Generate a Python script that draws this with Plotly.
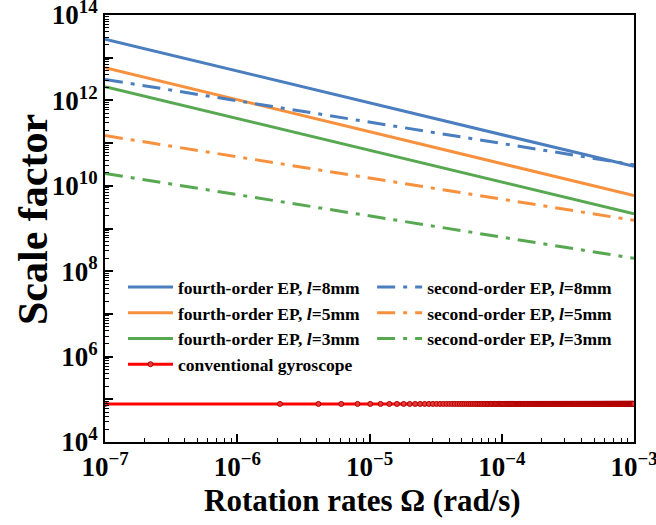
import numpy as np
import plotly.graph_objects as go

# Rotation-rate range (rad/s)
omega_ends = [1e-7, 1e-3]

# Scale factor at the two ends of each power-law curve (straight on log-log)
fourth_l8 = [2.7e13, 2.85e10]
fourth_l5 = [5.8e12, 5.9e9]
fourth_l3 = [2.1e12, 2.2e9]
second_l8 = [3.1e12, 3.1e10]
second_l5 = [1.5e11, 1.55e9]
second_l3 = [1.95e10, 2.0e8]

# Conventional gyroscope: constant scale factor, sampled on a linear grid
conv_value = 7.8e4
conv_n = 500
conv_omega = np.linspace(omega_ends[0], omega_ends[1], conv_n)
conv_vals = [conv_value] * conv_n

names_fourth = ["fourth-order EP, <i>l</i>=8mm", "fourth-order EP, <i>l</i>=5mm", "fourth-order EP, <i>l</i>=3mm"]
names_second = ["second-order EP, <i>l</i>=8mm", "second-order EP, <i>l</i>=5mm", "second-order EP, <i>l</i>=3mm"]
colors = ["#4a7ebf", "#f7913e", "#58a852"]

FONT = "Liberation Serif, Times New Roman, serif"
dash = "18px,8px,4px,8px"

fig = go.Figure()
for name, vals, c in zip(names_fourth, [fourth_l8, fourth_l5, fourth_l3], colors):
    fig.add_trace(go.Scatter(x=omega_ends, y=vals, mode="lines", name=name,
                             line=dict(color=c, width=3), legend="legend"))
for name, vals, c in zip(names_second, [second_l8, second_l5, second_l3], colors):
    fig.add_trace(go.Scatter(x=omega_ends, y=vals, mode="lines", name=name,
                             line=dict(color=c, width=3, dash=dash), legend="legend2"))
fig.add_trace(go.Scatter(x=conv_omega, y=conv_vals, mode="lines+markers",
                         name="conventional gyroscope",
                         line=dict(color="#ff0000", width=3),
                         marker=dict(size=5, color="#e83a3a", line=dict(color="#b00000", width=1)),
                         legend="legend"))

ymaj = [10.0 ** k for k in range(4, 15)]
ytext = ["<b>10<sup>%d</sup></b>" % k if k % 2 == 0 else "" for k in range(4, 15)]
yminor = [m * 10.0 ** k for k in range(4, 14) for m in range(2, 10)]
xmaj = [10.0 ** k for k in range(-7, -2)]
xtext = ["<b>10<sup>\u2212%d</sup></b>" % (-k) for k in range(-7, -2)]
xminor = [m * 10.0 ** k for k in range(-7, -3) for m in range(2, 10)]

axis_common = dict(showline=True, linecolor="black", linewidth=2, mirror=True,
                   ticks="inside", ticklen=8, tickwidth=1.5, tickcolor="black",
                   showgrid=False, zeroline=False, automargin=False,
                   ticklabeloverflow="allow",
                   tickfont=dict(family=FONT, size=27, color="black"))

fig.update_xaxes(type="log", range=[-7, -3], tickmode="array", tickvals=xmaj, ticktext=xtext,
                 minor=dict(tickmode="array", tickvals=xminor, ticks="inside", ticklen=4,
                            tickwidth=1.2, tickcolor="black", showgrid=False),
                 **axis_common)
fig.update_yaxes(type="log", range=[4, 14], tickmode="array", tickvals=ymaj, ticktext=ytext,
                 minor=dict(tickmode="array", tickvals=yminor, ticks="inside", ticklen=4,
                            tickwidth=1.2, tickcolor="black", showgrid=False),
                 **axis_common)

legfont = dict(family=FONT, size=17.5, color="black", weight="bold")
fig.update_layout(
    width=656, height=525,
    margin=dict(l=105, r=22, t=15, b=83),
    paper_bgcolor="white", plot_bgcolor="white",
    font=dict(family=FONT, color="black"),
    legend=dict(x=0.034, y=0.405, xanchor="left", yanchor="top", bgcolor="rgba(0,0,0,0)",
                font=legfont, tracegroupgap=8, traceorder="normal", itemwidth=45),
    legend2=dict(x=0.505, y=0.405, xanchor="left", yanchor="top", bgcolor="rgba(0,0,0,0)",
                 font=legfont, tracegroupgap=8, traceorder="normal", itemwidth=45),
    annotations=[
        dict(text="<b>Rotation rates \u03a9 (rad/s)</b>", xref="paper", yref="paper",
             x=0.486, y=-0.136, xanchor="center", yanchor="middle", showarrow=False,
             font=dict(family=FONT, size=31, color="black")),
        dict(text="<b>Scale factor</b>", xref="paper", yref="paper", textangle=-90,
             x=-0.136, y=0.52, xanchor="center", yanchor="middle", showarrow=False,
             font=dict(family=FONT, size=42, color="black")),
    ],
)

fig.write_html("out.html")
